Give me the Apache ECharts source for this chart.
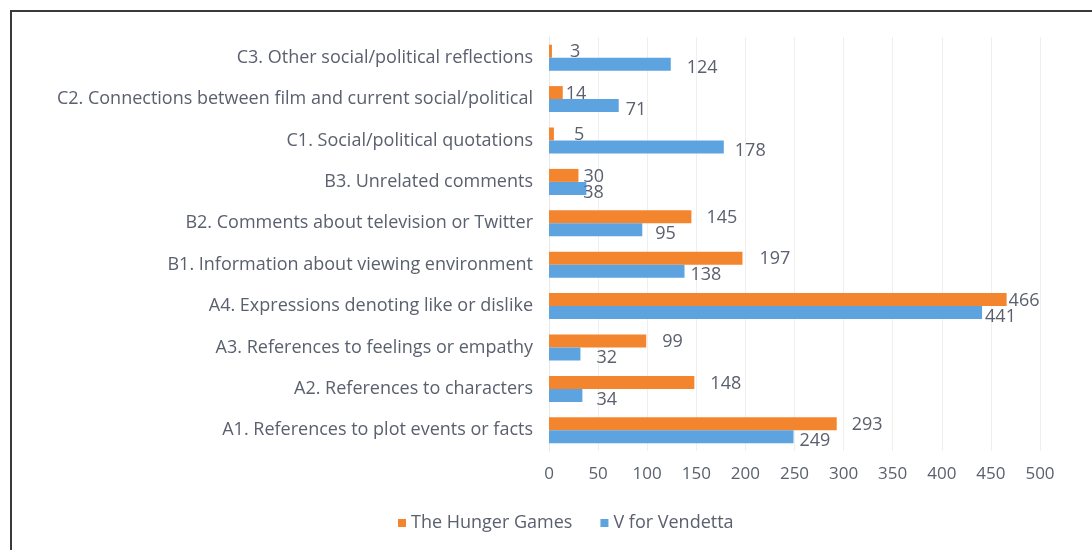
<!DOCTYPE html>
<html>
<head>
<meta charset="utf-8">
<script src="https://cdn.jsdelivr.net/npm/echarts@6/dist/echarts.min.js"></script>
<style>
  html, body { margin: 0; padding: 0; background: #fff; }
  #chart { width: 1092px; height: 550px; }
  #frame { position: absolute; left: 10px; top: 10px; width: 1100px; height: 560px; border: 2px solid #3a3a3a; pointer-events: none; }
</style>
</head>
<body>
<div id="chart"></div>
<div id="frame"></div>
<script>
  // categories listed bottom -> top (category axis starts at the bottom)
  const categories = [
    'A1. References to plot events or facts',
    'A2. References to characters',
    'A3. References to feelings or empathy',
    'A4. Expressions denoting like or dislike',
    'B1. Information about viewing environment',
    'B2. Comments about television or Twitter',
    'B3. Unrelated comments',
    'C1. Social/political quotations',
    'C2. Connections between film and current social/political',
    'C3. Other social/political reflections'
  ]
  const hungerGames = [293, 148, 99, 466, 197, 145, 30, 5, 14, 3]
  const vendetta = [249, 34, 32, 441, 138, 95, 38, 178, 71, 124]
  const xTicks = [0, 50, 100, 150, 200, 250, 300, 350, 400, 450, 500]

  // label gap after each bar, same order as categories (labels were hand-placed in the original)
  const hungerGap = [15, 16, 16, 2, 17, 15, 5, 20, 3, 18]
  const vendettaGap = [6, 14, 16, 3, 6, 13, -3, 11, 7, 16]

  const font = '"Open Sans", Lato, sans-serif'
  const textColor = '#5a606e'

  const withGaps = (values, gaps) => values.map((v, i) => ({value: v, label: {distance: gaps[i]}}))

  const chart = echarts.init(document.getElementById('chart'))
  chart.setOption({
    animation: false,
    textStyle: {fontFamily: font},
    grid: {left: 549, right: 52, top: 37, bottom: 99},
    legend: {
      bottom: 13,
      left: 393,
      data: ['The Hunger Games', 'V for Vendetta'],
      icon: 'rect',
      itemWidth: 8,
      itemHeight: 8,
      itemGap: 28,
      textStyle: {color: textColor, fontSize: 18, fontFamily: font}
    },
    xAxis: {
      type: 'value',
      min: xTicks[0],
      max: xTicks[xTicks.length - 1],
      interval: 50,
      axisLine: {show: false},
      axisTick: {show: false},
      axisLabel: {color: textColor, fontSize: 17, margin: 15, fontFamily: font},
      splitLine: {lineStyle: {color: '#efefef', width: 1}}
    },
    yAxis: {
      type: 'category',
      data: categories,
      axisLine: {show: true, lineStyle: {color: '#e8e8e8'}},
      axisTick: {show: false},
      axisLabel: {color: textColor, fontSize: 18, margin: 16, fontFamily: font}
    },
    series: [
      {
        name: 'The Hunger Games',
        type: 'bar',
        data: withGaps(hungerGames, hungerGap),
        barWidth: 13,
        barGap: '0%',
        itemStyle: {color: '#f3852f'},
        label: {show: true, position: 'right', offset: [0, 1], color: textColor, fontSize: 18, fontFamily: font}
      },
      {
        name: 'V for Vendetta',
        type: 'bar',
        data: withGaps(vendetta, vendettaGap),
        barWidth: 13,
        barGap: '0%',
        itemStyle: {color: '#5ca3df'},
        label: {show: true, position: 'right', offset: [0, 4], color: textColor, fontSize: 18, fontFamily: font}
      }
    ]
  })
</script>
</body>
</html>
